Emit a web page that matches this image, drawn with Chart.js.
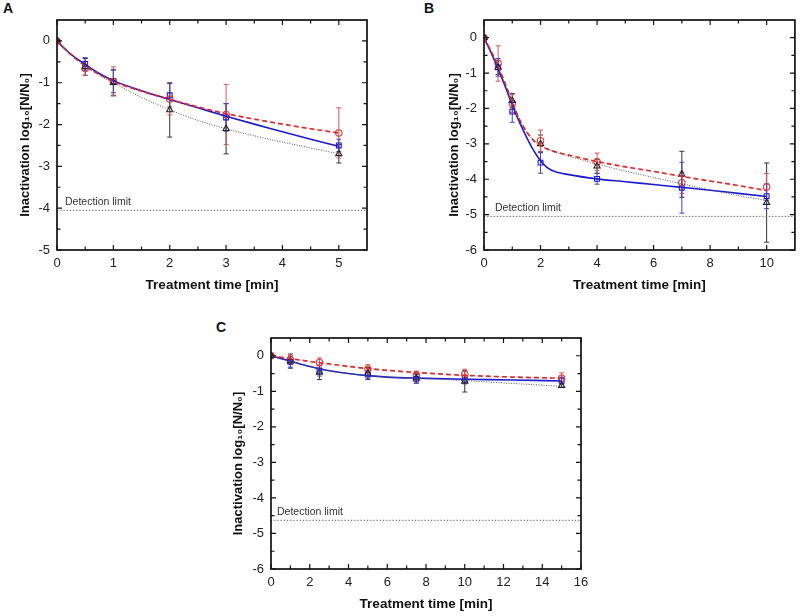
<!DOCTYPE html>
<html><head><meta charset="utf-8">
<script src="https://cdn.jsdelivr.net/npm/chart.js@4.4.0/dist/chart.umd.min.js"></script>
<style>
html,body{margin:0;padding:0;background:#fff;width:800px;height:616px;overflow:hidden;}
.panel{position:absolute;}
.letter{position:absolute;font:bold 14px "Liberation Sans",Arial,sans-serif;line-height:14px;color:#111;}
</style></head><body>
<div class="letter" style="left:3px;top:1px">A</div>
<div class="letter" style="left:424px;top:1px">B</div>
<div class="letter" style="left:216px;top:320px">C</div>
<div class="panel" style="left:0;top:0"><canvas id="cA" width="400" height="300"></canvas></div>
<div class="panel" style="left:400px;top:0"><canvas id="cB" width="400" height="300"></canvas></div>
<div class="panel" style="left:200px;top:300px"><canvas id="cC" width="400" height="316"></canvas></div>
<script>
// ---------- text ----------
const X_TITLE = 'Treatment time [min]';
const Y_TITLE = 'Inactivation log\u2081\u2080[N/N\u2080]';
const LIMIT_TEXT = 'Detection limit';

// ---------- Panel A ----------
const tA = [0, 0.5, 1, 2, 3, 5];
const A_red = [0, -0.66, -0.97, -1.39, -1.76, -2.2];
const A_redErr = [0, 0.17, 0.35, 0.38, 0.72, 0.6];
const A_blue = [0, -0.55, -0.96, -1.3, -1.83, -2.5];
const A_blueErr = [0, 0.15, 0.28, 0.28, 0.33, 0.15];
const A_black = [0, -0.62, -1.0, -1.65, -2.1, -2.7];
const A_blackErr = [0, 0.2, 0.3, 0.65, 0.6, 0.22];
const fitA_x = [0, 0.1, 0.25, 0.5, 0.75, 1, 1.5, 2, 2.5, 3, 3.5, 4, 4.5, 5];
const fitA_blue = [0, -0.14, -0.32, -0.56, -0.78, -0.95, -1.19, -1.4, -1.6, -1.8, -1.99, -2.17, -2.35, -2.52];
const fitA_red = [0, -0.14, -0.33, -0.6, -0.8, -0.97, -1.2, -1.4, -1.58, -1.74, -1.87, -1.99, -2.1, -2.2];
const fitA_black = [0, -0.14, -0.33, -0.6, -0.82, -1.0, -1.35, -1.65, -1.9, -2.1, -2.27, -2.42, -2.56, -2.7];
const limitA = -4.05;
const xTicksA = [0, 1, 2, 3, 4, 5];
const xMinorA = [0.5, 1.5, 2.5, 3.5, 4.5];
const yTicksA = [-5, -4, -3, -2, -1, 0];
const yMinorA = [-4.5, -3.5, -2.5, -1.5, -0.5];

// ---------- Panel B ----------
const tB = [0, 0.5, 1, 2, 4, 7, 10];
const B_red = [0, -0.73, -1.86, -2.91, -3.51, -4.1, -4.22];
const B_redErr = [0, 0.5, 0.25, 0.3, 0.25, 0.3, 0.38];
const B_blue = [0, -0.84, -2.09, -3.53, -3.99, -4.24, -4.48];
const B_blueErr = [0, 0.25, 0.3, 0.3, 0.15, 0.72, 0.35];
const B_black = [0, -0.84, -1.78, -3.0, -3.63, -3.86, -4.66];
const B_blackErr = [0, 0.2, 0.2, 0.25, 0.2, 0.65, 1.12];
const fitB_x = [0, 0.25, 0.5, 0.75, 1, 1.25, 1.5, 1.75, 2, 2.25, 2.5, 3, 4, 5, 6, 7, 8, 9, 10];
const fitB_blue = [0, -0.42, -0.88, -1.38, -1.9, -2.38, -2.8, -3.18, -3.48, -3.68, -3.78, -3.87, -3.99, -4.07, -4.15, -4.23, -4.31, -4.4, -4.49];
const fitB_red = [0, -0.38, -0.8, -1.3, -1.82, -2.3, -2.65, -2.9, -3.05, -3.15, -3.22, -3.32, -3.5, -3.65, -3.78, -3.92, -4.05, -4.18, -4.32];
const fitB_black = [0, -0.4, -0.85, -1.32, -1.8, -2.28, -2.65, -2.9, -3.05, -3.15, -3.23, -3.35, -3.57, -3.77, -3.95, -4.13, -4.3, -4.46, -4.6];
const limitB = -5.05;
const xTicksB = [0, 2, 4, 6, 8, 10];
const xMinorB = [1, 3, 5, 7, 9];
const yTicksB = [-6, -5, -4, -3, -2, -1, 0];
const yMinorB = [-5.5, -4.5, -3.5, -2.5, -1.5, -0.5];

// ---------- Panel C ----------
const tC = [0, 1, 2.5, 5, 7.5, 10, 15];
const C_red = [0, -0.11, -0.19, -0.37, -0.55, -0.52, -0.63];
const C_redErr = [0, 0.12, 0.13, 0.12, 0.12, 0.14, 0.15];
const C_blue = [0, -0.17, -0.42, -0.53, -0.65, -0.67, -0.7];
const C_blueErr = [0, 0.15, 0.15, 0.12, 0.12, 0.12, 0.1];
const C_black = [0, -0.15, -0.47, -0.5, -0.63, -0.72, -0.84];
const C_blackErr = [0, 0.2, 0.2, 0.17, 0.14, 0.3, 0.05];
const fitC_x = [0, 1, 2, 3, 4, 5, 6, 7.5, 10, 12.5, 15];
const fitC_blue = [0, -0.15, -0.3, -0.42, -0.5, -0.56, -0.6, -0.63, -0.66, -0.68, -0.71];
const fitC_red = [0, -0.08, -0.16, -0.23, -0.3, -0.36, -0.41, -0.47, -0.55, -0.6, -0.63];
const fitC_black = [0, -0.15, -0.3, -0.42, -0.5, -0.56, -0.6, -0.63, -0.7, -0.78, -0.86];
const limitC = -4.63;
const xTicksC = [0, 2, 4, 6, 8, 10, 12, 14, 16];
const xMinorC = [1, 3, 5, 7, 9, 11, 13, 15];
const yTicksC = [-6, -5, -4, -3, -2, -1, 0];
const yMinorC = [-5.5, -4.5, -3.5, -2.5, -1.5, -0.5];

// ---------- drawing ----------
const FONT = '"Liberation Sans", Arial, Helvetica, sans-serif';
const RED = '#e3262a', BLUE = '#1c1ccc', BLACK = '#222';

const errorBars = {
  id: 'errorBars',
  beforeDatasetsDraw(chart) {
    const {ctx, scales: {x, y}} = chart;
    chart.data.datasets.forEach(ds => {
      if (!ds.errors) return;
      ctx.save();
      ctx.strokeStyle = ds.errColor; ctx.lineWidth = 1;
      ds.data.forEach((p, j) => {
        const e = ds.errors[j]; if (!e) return;
        const px = x.getPixelForValue(p.x);
        const y1 = y.getPixelForValue(p.y + e), y2 = y.getPixelForValue(p.y - e);
        ctx.beginPath();
        ctx.moveTo(px, y1); ctx.lineTo(px, y2);
        ctx.moveTo(px - 2.5, y1); ctx.lineTo(px + 2.5, y1);
        ctx.moveTo(px - 2.5, y2); ctx.lineTo(px + 2.5, y2);
        ctx.stroke();
      });
      ctx.restore();
    });
  }
};

const frame = {
  id: 'frame',
  afterDraw(chart, args, o) {
    const {ctx, chartArea: {left, right, top, bottom}, scales: {x, y}} = chart;
    ctx.save();
    // detection limit label
    ctx.fillStyle = '#333';
    ctx.font = '10.5px ' + FONT;
    ctx.textAlign = 'left'; ctx.textBaseline = 'alphabetic';
    ctx.fillText(LIMIT_TEXT, left + o.labelDx, y.getPixelForValue(o.limit) - 5);
    // ticks
    ctx.strokeStyle = '#111'; ctx.lineWidth = 1.2;
    ctx.beginPath();
    const tx = (vals, len) => vals.forEach(v => {
      const p = x.getPixelForValue(v);
      ctx.moveTo(p, bottom); ctx.lineTo(p, bottom - len);
      ctx.moveTo(p, top); ctx.lineTo(p, top + len);
    });
    const ty = (vals, len) => vals.forEach(v => {
      const p = y.getPixelForValue(v);
      ctx.moveTo(left, p); ctx.lineTo(left + len, p);
      ctx.moveTo(right, p); ctx.lineTo(right - len, p);
    });
    tx(o.xMajor, 5); tx(o.xMinor, 3.5); ty(o.yMajor, 5); ty(o.yMinor, 3.5);
    ctx.stroke();
    // frame
    ctx.lineWidth = 1.7;
    ctx.strokeRect(left, top, right - left, bottom - top);
    // y title
    ctx.translate(left - o.yTitleDx, (top + bottom) / 2 + 10);
    ctx.rotate(-Math.PI / 2);
    ctx.fillStyle = '#111';
    ctx.font = 'bold 13px ' + FONT;
    ctx.textAlign = 'center'; ctx.textBaseline = 'middle';
    ctx.fillText(Y_TITLE, 0, 0);
    ctx.restore();
  }
};

function pts(xs, ys) { return xs.map((v, i) => ({x: v, y: ys[i]})); }

function makeChart(id, c) {
  const datasets = [
    {data: [{x: c.xMin, y: c.limit}, {x: c.xMax, y: c.limit}], borderColor: '#555', borderWidth: 1, borderDash: [1.2, 2], pointRadius: 0},
    {data: pts(c.fitX, c.fitBlack), borderColor: '#555', borderWidth: 1, borderDash: [1, 1.5], pointRadius: 0, cubicInterpolationMode: 'monotone'},
    {data: pts(c.fitX, c.fitRed), borderColor: RED, borderWidth: 1.7, borderDash: [5, 3], pointRadius: 0, cubicInterpolationMode: 'monotone'},
    {data: pts(c.fitX, c.fitBlue), borderColor: BLUE, borderWidth: 1.6, pointRadius: 0, cubicInterpolationMode: 'monotone'},
    {data: pts(c.t, c.black), showLine: false, pointStyle: 'triangle', pointRadius: 3.6, pointBorderWidth: 1.1, pointBorderColor: BLACK, pointBackgroundColor: 'rgba(255,255,255,0)', errors: c.blackErr, errColor: '#333'},
    {data: pts(c.t, c.red), showLine: false, pointStyle: 'circle', pointRadius: 3.2, pointBorderWidth: 1.1, pointBorderColor: '#d83a3a', pointBackgroundColor: 'rgba(255,255,255,0)', errors: c.redErr, errColor: '#d55'},
    {data: pts(c.t, c.blue), showLine: false, pointStyle: 'rect', pointRadius: 3.4, pointBorderWidth: 1.1, pointBorderColor: BLUE, pointBackgroundColor: 'rgba(255,255,255,0)', errors: c.blueErr, errColor: '#44c'}
  ];
  return new Chart(document.getElementById(id), {
    type: 'line',
    data: {datasets},
    plugins: [errorBars, frame],
    options: {
      responsive: false, animation: false,
      layout: {padding: {left: c.padL, top: c.padT, right: c.padR, bottom: 0}},
      plugins: {
        legend: {display: false}, tooltip: {enabled: false},
        frame: {limit: c.limit, labelDx: c.labelDx, yTitleDx: c.yTitleDx,
                xMajor: c.xTicks, xMinor: c.xMinor, yMajor: c.yTicks, yMinor: c.yMinor}
      },
      scales: {
        x: {
          type: 'linear', min: c.xMin, max: c.xMax,
          grid: {display: false, drawTicks: false}, border: {display: false},
          afterBuildTicks: s => { s.ticks = c.xTicks.map(v => ({value: v})); },
          afterFit: s => { s.height = c.xH; },
          ticks: {padding: 6, color: '#222', font: {family: FONT, size: 13}, maxRotation: 0, autoSkip: false, callback: v => String(v)},
          title: {display: true, text: X_TITLE, color: '#111', font: {family: FONT, size: 13.5, weight: 'bold'}, padding: {top: 0, bottom: c.xTitlePad}}
        },
        y: {
          type: 'linear', min: c.yMin, max: 0.5,
          grid: {display: false, drawTicks: false}, border: {display: false},
          afterBuildTicks: s => { s.ticks = c.yTicks.map(v => ({value: v})); },
          afterFit: s => { s.width = c.yW; },
          ticks: {padding: 7, color: '#222', font: {family: FONT, size: 13}, autoSkip: false, callback: v => String(v)}
        }
      }
    }
  });
}

makeChart('cA', {t: tA, red: A_red, redErr: A_redErr, blue: A_blue, blueErr: A_blueErr, black: A_black, blackErr: A_blackErr,
  fitX: fitA_x, fitRed: fitA_red, fitBlue: fitA_blue, fitBlack: fitA_black, limit: limitA,
  xTicks: xTicksA, xMinor: xMinorA, yTicks: yTicksA, yMinor: yMinorA,
  xMin: 0, xMax: 5.5, yMin: -5, padL: 0, padT: 20, padR: 33, yW: 57, xH: 50, xTitlePad: 7, labelDx: 8, yTitleDx: 32});
makeChart('cB', {t: tB, red: B_red, redErr: B_redErr, blue: B_blue, blueErr: B_blueErr, black: B_black, blackErr: B_blackErr,
  fitX: fitB_x, fitRed: fitB_red, fitBlue: fitB_blue, fitBlack: fitB_black, limit: limitB,
  xTicks: xTicksB, xMinor: xMinorB, yTicks: yTicksB, yMinor: yMinorB,
  xMin: 0, xMax: 11, yMin: -6, padL: 30, padT: 20, padR: 4, yW: 54, xH: 50, xTitlePad: 7, labelDx: 11, yTitleDx: 30});
makeChart('cC', {t: tC, red: C_red, redErr: C_redErr, blue: C_blue, blueErr: C_blueErr, black: C_black, blackErr: C_blackErr,
  fitX: fitC_x, fitRed: fitC_red, fitBlue: fitC_blue, fitBlack: fitC_black, limit: limitC,
  xTicks: xTicksC, xMinor: xMinorC, yTicks: yTicksC, yMinor: yMinorC,
  xMin: 0, xMax: 16, yMin: -6, padL: 14, padT: 38, padR: 19, yW: 57, xH: 47, xTitlePad: 4, labelDx: 6, yTitleDx: 33});
</script>
</body></html>
